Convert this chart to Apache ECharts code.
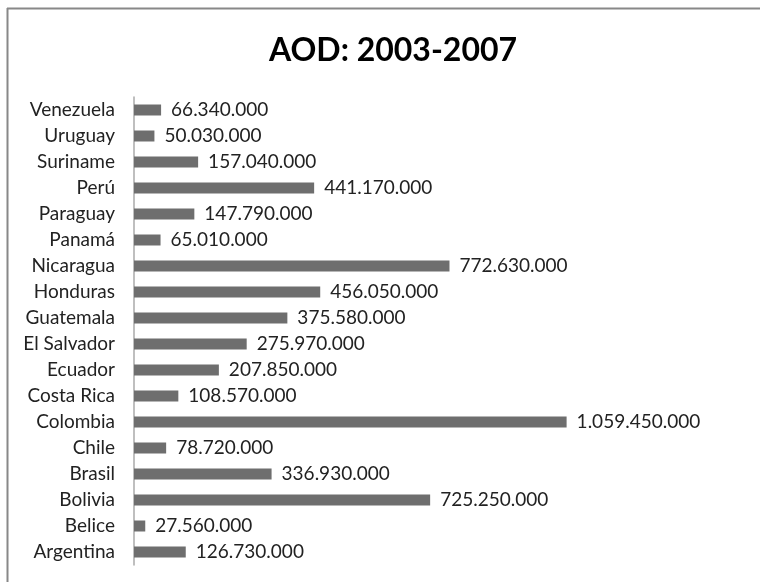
<!DOCTYPE html>
<html><head><meta charset="utf-8">
<script src="https://cdn.jsdelivr.net/npm/echarts@6/dist/echarts.min.js"></script>
<style>html,body{margin:0;padding:0;background:#fff}#c{width:760px;height:582px}</style>
</head><body><div id="c"></div>
<script>
const categories = ["Argentina","Belice","Bolivia","Brasil","Chile","Colombia","Costa Rica","Ecuador","El Salvador","Guatemala","Honduras","Nicaragua","Panamá","Paraguay","Perú","Suriname","Uruguay","Venezuela"];
const values = [126730000,27560000,725250000,336930000,78720000,1059450000,108570000,207850000,275970000,375580000,456050000,772630000,65010000,147790000,441170000,157040000,50030000,66340000];
const title = "AOD: 2003-2007";
const FONT = "Lato";
function fmt(v){return String(v).replace(/\B(?=(\d{3})+(?!\d))/g,".");}
const chart = echarts.init(document.getElementById('c'));
chart.setOption({
  animation:false,
  backgroundColor:'#fff',
  title:{text:title,left:388,top:30,textAlign:'center',textStyle:{fontFamily:FONT,fontSize:32,fontWeight:'bold',color:'#000'}},
  graphic:[
    {type:'line',shape:{x1:7,y1:8.5,x2:760,y2:8.5},style:{stroke:'#888',lineWidth:2}},
    {type:'line',shape:{x1:7.5,y1:8,x2:7.5,y2:582},style:{stroke:'#888',lineWidth:2}}
  ],
  grid:{left:134,top:97,bottom:17,right:136,containLabel:false},
  xAxis:{type:'value',min:0,max:1200000000,show:false},
  yAxis:{type:'category',data:categories,axisLine:{lineStyle:{color:'#aaa',width:1.5}},axisTick:{show:false},
    axisLabel:{fontFamily:FONT,fontSize:19,color:'#222',margin:19}},
  series:[{type:'bar',data:values,barWidth:11,itemStyle:{color:'#6e6e6e'},
    label:{show:true,position:'right',distance:10,fontFamily:FONT,fontSize:19,color:'#222',formatter:p=>fmt(p.value)}}]
});
</script></body></html>
